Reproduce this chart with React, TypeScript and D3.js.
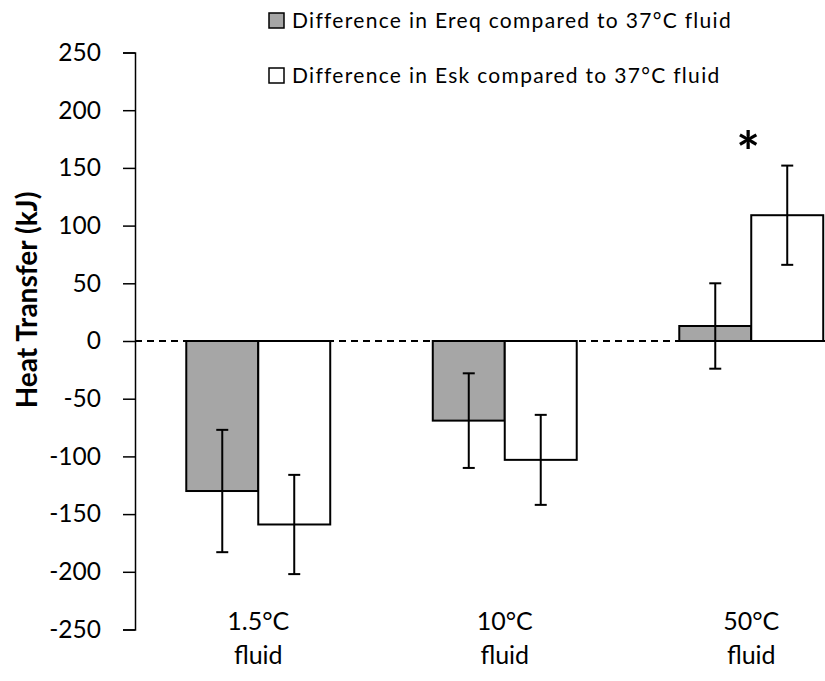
import React, { useEffect, useRef } from 'react';
import * as d3 from 'd3';

// Values
const categories = ['1.5°C fluid', '10°C fluid', '50°C fluid'];
const seriesNames = [
  'Difference in Ereq compared to 37°C fluid',
  'Difference in Esk compared to 37°C fluid',
];
const ereqValues = [-130, -69, 13];
const ereqErrors = [53, 41, 37];
const eskValues = [-159, -103, 109];
const eskErrors = [43, 39, 43];
const yTicks = [250, 200, 150, 100, 50, 0, -50, -100, -150, -200, -250];
const significant = [false, false, true]; // asterisk above Esk bar

const App = () => {
  const svgRef = useRef<SVGSVGElement>(null);

  useEffect(() => {
    const svg = d3.select(svgRef.current);
    svg.selectAll('*').remove();

    const width = 825;
    const height = 681;
    const font = 'Lato, Carlito, Calibri, sans-serif';
    svg.attr('width', width).attr('height', height);

    const y = d3.scaleLinear().domain([-250, 250]).range([629.5, 52.5]);

    const x0 = d3
      .scaleBand()
      .domain(categories)
      .range([135, 135 + 3 * 246.5])
      .paddingInner(0.416)
      .paddingOuter(0.208);

    const x1 = d3.scaleBand().domain(['ereq', 'esk']).range([0, x0.bandwidth()]);

    const rows = categories.map((c, i) => ({
      cat: c,
      bars: [
        { key: 'ereq', value: ereqValues[i], err: ereqErrors[i], fill: '#a6a6a6' },
        { key: 'esk', value: eskValues[i], err: eskErrors[i], fill: '#ffffff' },
      ],
      sig: significant[i],
    }));

    // zero line, dashed
    svg
      .append('line')
      .attr('x1', 135)
      .attr('x2', width)
      .attr('y1', y(0))
      .attr('y2', y(0))
      .attr('stroke', '#000')
      .attr('stroke-width', 2)
      .attr('stroke-dasharray', '7,5');

    const groups = svg
      .selectAll('.grp')
      .data(rows)
      .enter()
      .append('g')
      .attr('transform', (d) => `translate(${x0(d.cat)},0)`);

    groups
      .selectAll('rect')
      .data((d) => d.bars)
      .enter()
      .append('rect')
      .attr('x', (d) => x1(d.key)!)
      .attr('width', x1.bandwidth())
      .attr('y', (d) => y(Math.max(0, d.value)))
      .attr('height', (d) => Math.abs(y(d.value) - y(0)))
      .attr('fill', (d) => d.fill)
      .attr('stroke', '#000')
      .attr('stroke-width', 2);

    // error bars
    const cap = 6;
    groups.each(function (row) {
      const g = d3.select(this);
      row.bars.forEach((b) => {
        const cx = x1(b.key)! + x1.bandwidth() / 2;
        const top = y(b.value + b.err);
        const bot = y(b.value - b.err);
        g.append('line')
          .attr('x1', cx).attr('x2', cx)
          .attr('y1', top).attr('y2', bot)
          .attr('stroke', '#000').attr('stroke-width', 2);
        [top, bot].forEach((yy) =>
          g.append('line')
            .attr('x1', cx - cap).attr('x2', cx + cap)
            .attr('y1', yy).attr('y2', yy)
            .attr('stroke', '#000').attr('stroke-width', 2)
        );
      });
      if (row.sig) {
        const b = row.bars[1];
        g.append('text')
          .attr('x', x1('esk')! - 3)
          .attr('y', y(b.value + b.err) + 6)
          .attr('text-anchor', 'middle')
          .attr('font-family', font)
          .attr('font-weight', 'bold')
          .attr('font-size', 56)
          .text('*');
      }
    });

    // x labels, two lines each
    groups.each(function (row) {
      const g = d3.select(this);
      const parts = row.cat.split(' ');
      const cx = x0.bandwidth() / 2;
      parts.forEach((p, k) => {
        g.append('text')
          .attr('x', cx)
          .attr('y', 630 + k * 34)
          .attr('text-anchor', 'middle')
          .attr('font-family', font)
          .attr('font-size', 25)
          .text(p);
      });
    });

    // y axis
    const axis = svg
      .append('g')
      .attr('transform', 'translate(135,0)')
      .call(
        d3
          .axisLeft(y)
          .tickValues(yTicks)
          .tickFormat((d) => String(d))
          .tickSize(12)
          .tickSizeOuter(12)
          .tickPadding(22)
      );
    axis.selectAll('path, line').attr('stroke', '#000').attr('stroke-width', 1.5);
    axis
      .selectAll('text')
      .attr('font-family', font)
      .attr('font-size', 24.5)
      .attr('fill', '#000');

    svg
      .append('text')
      .attr('transform', 'translate(37,300) rotate(-90)')
      .attr('text-anchor', 'middle')
      .attr('font-family', font)
      .attr('font-weight', 'bold')
      .attr('font-size', 28)
      .text('Heat Transfer (kJ)');

    // legend
    const legend = svg.append('g');
    const legendFills = ['#a6a6a6', '#ffffff'];
    seriesNames.forEach((name, i) => {
      const base = 28 + i * 55;
      legend
        .append('rect')
        .attr('x', 269)
        .attr('y', base - 15)
        .attr('width', 15)
        .attr('height', 15)
        .attr('fill', legendFills[i])
        .attr('stroke', '#000')
        .attr('stroke-width', 1.5);
      legend
        .append('text')
        .attr('x', 292)
        .attr('y', base)
        .attr('font-family', font)
        .attr('font-size', 21)
        .attr('letter-spacing', 1.3)
        .text(name);
    });
  }, []);

  return <svg ref={svgRef} style={{ display: 'block', position: 'absolute', left: 0, top: 0 }} />;
};

export default App;
